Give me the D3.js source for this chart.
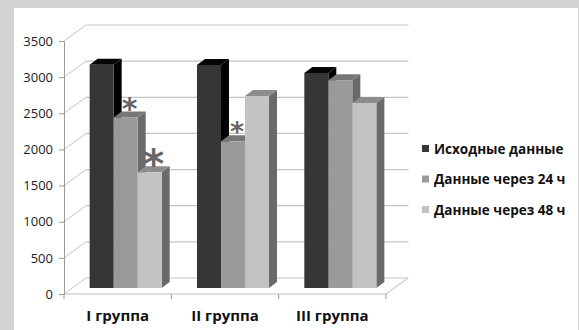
<!DOCTYPE html>
<html>
<head>
<meta charset="utf-8">
<script src="https://cdn.jsdelivr.net/npm/d3@7"></script>
<style>
  html, body { margin: 0; padding: 0; background: #d3d3d3; }
  svg { display: block; }
</style>
</head>
<body>
<svg id="chart" width="579" height="330"></svg>
<script>
// Group names on the category axis
const groups = ["I группа", "II группа", "III группа"];
// Series names shown in the legend
const seriesNames = ["Исходные данные", "Данные через 24 ч", "Данные через 48 ч"];
// Values per series, one entry per group
const initialValues = [3090, 3085, 2975];
const after24h = [2360, 2030, 2875];
const after48h = [1600, 2655, 2560];
// Significance markers: [series index, group index, relative size]
const markers = [[1, 0, 1.0], [2, 0, 1.35], [1, 1, 0.9]];
// Y-axis ticks
const yTicks = [0, 500, 1000, 1500, 2000, 2500, 3000, 3500];

const series = [initialValues, after24h, after48h];
const frontColors = ["#363636", "#9a9a9a", "#c3c3c3"];
const topColors = ["#050505", "#777777", "#8c8c8c"];
const sideColors = ["#000000", "#6a6a6a", "#6a6a6a"];

const svg = d3.select("#chart");

// white plot panel on the gray frame
svg.append("rect").attr("x", 14).attr("y", 8).attr("width", 564).attr("height", 322).attr("fill", "#ffffff");

// 3D layout: front plane of axes and depth offset of the back wall
const frontLeft = 64, frontRight = 386, frontBase = 294;
const depthX = 22, depthY = -16;
const yMax = 3500;

const y = d3.scaleLinear().domain([0, yMax]).range([frontBase, 41]);
const x = d3.scaleBand().domain(groups).range([frontLeft, frontRight]).paddingInner(0).paddingOuter(0);

const grid = svg.append("g");
// back wall gridlines and left wall diagonals
yTicks.forEach(t => {
  const yy = y(t);
  grid.append("line")
    .attr("x1", frontLeft + depthX).attr("x2", frontRight + depthX + 0.5)
    .attr("y1", yy + depthY).attr("y2", yy + depthY)
    .attr("stroke", "#c4c4c4").attr("stroke-width", 1.2);
  grid.append("line")
    .attr("x1", frontLeft).attr("y1", yy)
    .attr("x2", frontLeft + depthX).attr("y2", yy + depthY)
    .attr("stroke", "#c4c4c4").attr("stroke-width", 1);
});
// floor outline
grid.append("path")
  .attr("d", `M${frontLeft},${frontBase} L${frontRight},${frontBase} L${frontRight + depthX},${frontBase + depthY}`)
  .attr("fill", "none").attr("stroke", "#bdbdbd").attr("stroke-width", 1);

// y axis
const yAxis = d3.axisLeft(y).tickValues(yTicks).tickSize(5).tickPadding(6).tickFormat(d3.format("d"));
const gy = svg.append("g").attr("transform", `translate(${frontLeft},0)`).call(yAxis);
gy.select(".domain").attr("stroke", "#9a9a9a");
gy.selectAll(".tick line").attr("stroke", "#9a9a9a");
gy.selectAll(".tick text")
  .attr("font-family", "'Open Sans', sans-serif").attr("font-size", 13)
  .attr("fill", "#1a1a1a");

// x axis (category labels and tick marks between groups)
const xAxis = d3.axisBottom(x).tickSize(0).tickPadding(0);
const gx = svg.append("g").attr("transform", `translate(0,${frontBase})`).call(xAxis);
gx.select(".domain").remove();
gx.selectAll(".tick text")
  .attr("y", 27).attr("dy", 0)
  .attr("font-family", "'Open Sans', sans-serif").attr("font-size", 15)
  .attr("font-weight", "bold").attr("fill", "#111");
[frontLeft, ...groups.map(g => x(g) + x.bandwidth())].forEach(px => {
  svg.append("line").attr("x1", px).attr("x2", px)
    .attr("y1", frontBase).attr("y2", frontBase + 5)
    .attr("stroke", "#9a9a9a");
});

// bars sit partway into the floor depth
const barShiftX = 8, barShiftY = -6;
const barDX = 8, barDY = -6;
const yb = d3.scaleLinear().domain([0, yMax]).range([frontBase + barShiftY, 41 + barShiftY]);
const inner = d3.scaleBand().domain([0, 1, 2]).range([0, x.bandwidth()]).paddingInner(0).paddingOuter(0.735);

const bars = svg.append("g");
groups.forEach((g, gi) => {
  series.forEach((vals, si) => {
    const bx = x(g) + inner(si) + barShiftX;
    const bw = inner.bandwidth();
    const top = yb(vals[gi]);
    const base = yb(0);
    // side face
    bars.append("path")
      .attr("d", `M${bx + bw},${top} L${bx + bw + barDX},${top + barDY} L${bx + bw + barDX},${base + barDY} L${bx + bw},${base} Z`)
      .attr("fill", sideColors[si]);
    // top face
    bars.append("path")
      .attr("d", `M${bx},${top} L${bx + barDX},${top + barDY} L${bx + bw + barDX},${top + barDY} L${bx + bw},${top} Z`)
      .attr("fill", topColors[si]);
    // front face
    bars.append("rect")
      .attr("x", bx).attr("y", top).attr("width", bw).attr("height", base - top)
      .attr("fill", frontColors[si]);
  });
});

// significance asterisks above bars
markers.forEach(([si, gi, s]) => {
  const g = groups[gi];
  const cx = x(g) + inner(si) + barShiftX + inner.bandwidth() / 2 + barDX / 2;
  const top = yb(series[si][gi]);
  const fs = 30 * s;
  svg.append("text")
    .attr("x", cx).attr("y", top - 13 + 0.47 * fs)
    .attr("text-anchor", "middle")
    .attr("font-family", "'DejaVu Sans', sans-serif").attr("font-weight", "bold")
    .attr("font-size", fs).attr("fill", "#666666")
    .text("*");
});

// legend
const legend = svg.append("g").attr("transform", "translate(422,149)");
seriesNames.forEach((name, i) => {
  const row = legend.append("g").attr("transform", `translate(0,${i * 30.5})`);
  row.append("rect").attr("x", 0).attr("y", -4).attr("width", 7).attr("height", 7).attr("fill", frontColors[i]);
  row.append("text").attr("x", 12).attr("y", 4.5)
    .attr("font-family", "'Open Sans', sans-serif").attr("font-size", 13.5)
    .attr("font-weight", "bold").attr("fill", "#111").text(name);
});
</script>
</body>
</html>
